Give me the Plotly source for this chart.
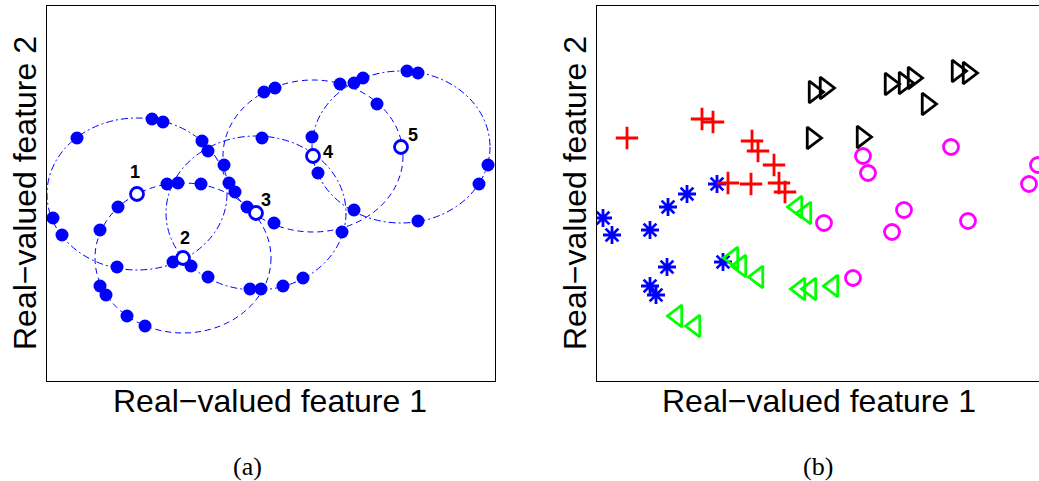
import plotly.graph_objects as go

# ---- data (feature units) ----
star_x = [6, 15, 53, 71, 90, 120, 70, 53, 59, 126]
star_y = [163, 146, 151, 174, 187, 197, 114, 95, 86, 119]

plus_x = [30, 105, 116, 155, 161, 177, 182, 188, 131, 154]
plus_y = [243, 262, 259, 240, 230, 216, 198, 189, 198, 197]

tril_x = [200, 209, 136, 144, 161, 80, 98, 203, 214, 236]
tril_y = [174, 168, 123, 115, 104, 65, 55, 92, 92, 95]

circ_x = [227, 256, 295, 307, 371, 432, 266, 271, 354, 441]
circ_y = [158, 103, 149, 171, 160, 197, 225, 208, 234, 216]

trir_x = [217, 228, 293, 307, 316, 360, 371, 330, 215, 265]
trir_y = [289, 293, 297, 298, 303, 310, 308, 277, 243, 244]

# numbered query points (centres of neighbourhood circles)
center_x = [90, 136, 209, 266, 354]
center_y = [187, 123, 168, 225, 234]
center_labels = ["1", "2", "3", "4", "5"]
radius_x = [90, 88, 90, 90, 89]
radius_y = [76, 75, 77, 76, 76]

all_x = star_x + plus_x + tril_x + circ_x + trir_x
all_y = star_y + plus_y + tril_y + circ_y + trir_y
centers = set(zip(center_x, center_y))
dot_x = [x for x, y in zip(all_x, all_y) if (x, y) not in centers]
dot_y = [y for x, y in zip(all_x, all_y) if (x, y) not in centers]

W, H = 1039, 481
BLUE = "rgb(0,0,255)"

fig = go.Figure()

# ---- panel (a) ----
fig.add_trace(go.Scatter(x=dot_x, y=dot_y, mode="markers", xaxis="x", yaxis="y",
                         marker=dict(symbol="circle", size=13, color=BLUE,
                                     line=dict(width=0)), showlegend=False))
fig.add_trace(go.Scatter(x=center_x, y=center_y, mode="markers", xaxis="x", yaxis="y",
                         marker=dict(symbol="circle", size=13, color="white",
                                     line=dict(width=2.8, color=BLUE)), showlegend=False))

dashes = ["7px,3px,2px,3px", "6px,4px", "7px,3px,2px,3px", "6px,4px", "7px,3px,2px,3px"]
for cx, cy, rx, ry, d in zip(center_x, center_y, radius_x, radius_y, dashes):
    fig.add_shape(type="circle", xref="x", yref="y",
                  x0=cx - rx, x1=cx + rx, y0=cy - ry, y1=cy + ry,
                  line=dict(color=BLUE, width=1, dash=d), layer="below")

label_shift = [(-2, 22), (2, 20), (10, 13), (15, 4), (12, 12)]
for cx, cy, t, (sx, sy) in zip(center_x, center_y, center_labels, label_shift):
    fig.add_annotation(x=cx, y=cy, xref="x", yref="y", text="<b>%s</b>" % t,
                       showarrow=False, xshift=sx, yshift=sy,
                       font=dict(family="Liberation Sans, Arial", size=18, color="black"))

# ---- panel (b) ----
groups = [
    (star_x, star_y, "asterisk-open", 15, BLUE),
    (plus_x, plus_y, "cross-thin-open", 16, "rgb(255,0,0)"),
    (tril_x, tril_y, "triangle-left-open", 19, "rgb(0,255,0)"),
    (circ_x, circ_y, "circle-open", 15, "rgb(255,0,255)"),
    (trir_x, trir_y, "triangle-right-open", 19, "black"),
]
for gx, gy, sym, sz, col in groups:
    fig.add_trace(go.Scatter(x=gx, y=gy, mode="markers", xaxis="x2", yaxis="y2",
                             marker=dict(symbol=sym, size=sz, color=col,
                                         line=dict(width=2.8, color=col)),
                             showlegend=False))

ydom = [(H - 381) / H, (H - 6) / H]
axis_common = dict(showticklabels=False, ticks="", showgrid=False, zeroline=False,
                   showline=True, linecolor="black", linewidth=1.3, fixedrange=True)

fig.update_layout(
    width=W, height=H, margin=dict(l=0, r=0, t=0, b=0),
    paper_bgcolor="white", plot_bgcolor="white",
    xaxis=dict(domain=[47 / W, 495 / W], range=[0, 448], anchor="y", mirror=True, **axis_common),
    yaxis=dict(domain=ydom, range=[0, 375], anchor="x", mirror=True, **axis_common),
    xaxis2=dict(domain=[597 / W, 1.0], range=[0, 442], anchor="y2", mirror=True, **axis_common),
    yaxis2=dict(domain=ydom, range=[0, 375], anchor="x2", mirror=False, **axis_common),
)

lab_font = dict(family="Liberation Sans, Arial", size=32, color="black")
for xc in (270, 819):
    fig.add_annotation(x=xc / W, y=(H - 401) / H, xref="paper", yref="paper",
                       text="Real\u2212valued feature 1", showarrow=False,
                       xanchor="center", yanchor="middle", font=lab_font)
for xc in (25, 575):
    fig.add_annotation(x=xc / W, y=(H - 193) / H, xref="paper", yref="paper",
                       text="Real\u2212valued feature 2", showarrow=False, textangle=-90,
                       xanchor="center", yanchor="middle", font=lab_font)

cap_font = dict(family="Liberation Serif, Times New Roman", size=26, color="black")
for xc, t in ((247, "(a)"), (818, "(b)")):
    fig.add_annotation(x=xc / W, y=(H - 466) / H, xref="paper", yref="paper",
                       text=t, showarrow=False, xanchor="center", yanchor="middle",
                       font=cap_font)

fig.write_html("out.html")
